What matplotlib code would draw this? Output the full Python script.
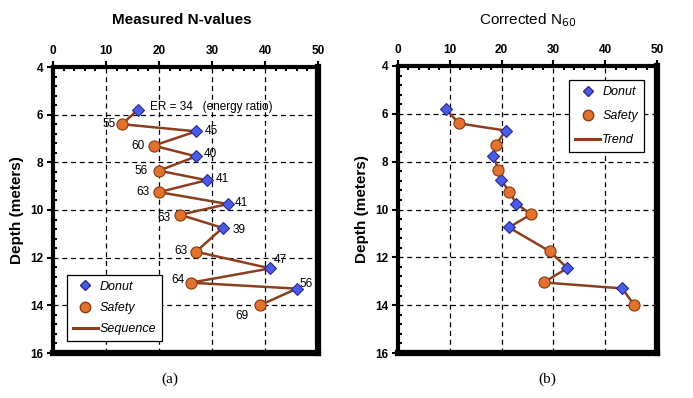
import matplotlib
matplotlib.use("Agg")
import matplotlib.pyplot as plt
from matplotlib.lines import Line2D
from matplotlib.ticker import MultipleLocator

plt.rcParams['font.family'] = ['Liberation Sans', 'DejaVu Sans']

# test sequence, in depth order
depth = [5.8, 6.4, 6.7, 7.3, 7.75, 8.35, 8.75, 9.25, 9.75, 10.2, 10.75, 11.75, 12.45, 13.05, 13.3, 14.0]
hammer = ['Donut', 'Safety', 'Donut', 'Safety', 'Donut', 'Safety', 'Donut', 'Safety',
          'Donut', 'Safety', 'Donut', 'Safety', 'Donut', 'Safety', 'Donut', 'Safety']
n_measured = [16, 13, 27, 19, 27, 20, 29, 20, 33, 24, 32, 27, 41, 26, 46, 39]
energy_ratio = [34, 55, 45, 60, 40, 56, 41, 63, 41, 63, 39, 63, 47, 64, 56, 69]
n60 = [9.2, 11.8, 20.8, 18.9, 18.4, 19.4, 19.8, 21.5, 22.8, 25.7, 21.4, 29.3, 32.7, 28.1, 43.3, 45.6]

# label placement around each point (pixels)
label_offsets = [(0, 0), (-13, 0), (15, 0), (-16, 0), (14, 2), (-18, 0), (16, 1), (-16, 0),
                 (13, 1), (-16, -3), (16, -2), (-15, 1), (10, 8), (-13, 3), (9, 5), (-18, -11)]

blue = '#4a5ce6'
orange = '#e2722f'
brown = '#8b3f1f'

fig = plt.figure(figsize=(6.93, 3.98), dpi=100)
ax1 = fig.add_axes([53 / 693, 1 - 353 / 398, 265 / 693, 286 / 398])
ax2 = fig.add_axes([398 / 693, 1 - 353 / 398, 259 / 693, 287 / 398])


def style_axes(ax):
    ax.set_xlim(0, 50)
    ax.set_ylim(16, 4)
    ax.xaxis.tick_top()
    ax.xaxis.set_major_locator(MultipleLocator(10))
    ax.xaxis.set_minor_locator(MultipleLocator(2))
    ax.yaxis.set_major_locator(MultipleLocator(2))
    ax.yaxis.set_minor_locator(MultipleLocator(0.4))
    ax.tick_params(which='major', direction='out', length=4, width=1.5, labelsize=8.5, pad=3)
    ax.tick_params(which='minor', direction='in', length=3, width=1.5)
    for lab in ax.get_xticklabels() + ax.get_yticklabels():
        lab.set_fontweight('bold')
    ax.grid(True, which='major', color='black', linestyle=(0, (4, 3)), linewidth=0.9)
    ax.spines['top'].set_linewidth(3)
    ax.spines['left'].set_linewidth(3)
    ax.spines['right'].set_linewidth(4.5)
    ax.spines['bottom'].set_linewidth(4.5)
    ax.set_ylabel('Depth (meters)', fontsize=11, fontweight='bold', labelpad=4)


def draw_points(ax, xs, line_label):
    ax.plot(xs, depth, color=brown, lw=1.8, zorder=3)
    dx = [x for x, h in zip(xs, hammer) if h == 'Donut']
    dy = [d for d, h in zip(depth, hammer) if h == 'Donut']
    sx = [x for x, h in zip(xs, hammer) if h == 'Safety']
    sy = [d for d, h in zip(depth, hammer) if h == 'Safety']
    ax.plot(dx, dy, 'D', ms=6, mfc=blue, mec='#2a2a90', mew=0.8, ls='none', zorder=4)
    ax.plot(sx, sy, 'o', ms=8, mfc=orange, mec='#8a3a10', mew=0.8, ls='none', zorder=4)
    handles = [Line2D([], [], marker='D', ms=5.5, mfc=blue, mec='#2a2a90', ls='none', label='Donut'),
               Line2D([], [], marker='o', ms=7.5, mfc=orange, mec='#8a3a10', ls='none', label='Safety'),
               Line2D([], [], color=brown, lw=2.2, label=line_label)]
    return handles


style_axes(ax1)
style_axes(ax2)

h1 = draw_points(ax1, n_measured, 'Sequence')
h2 = draw_points(ax2, n60, 'Trend')

for i, (x, d, er) in enumerate(zip(n_measured, depth, energy_ratio)):
    if i == 0:
        ax1.annotate('ER = %d   (energy ratio)' % er, (x, d), xytext=(12, 3),
                     textcoords='offset pixels', ha='left', va='center', fontsize=8.5)
    else:
        ax1.annotate(str(er), (x, d), xytext=label_offsets[i], textcoords='offset pixels',
                     ha='center', va='center', fontsize=8.5)

leg1 = ax1.legend(handles=h1, loc='lower left', bbox_to_anchor=(0.053, 0.042), borderaxespad=0,
                  fancybox=False, edgecolor='black', framealpha=1, prop={'style': 'italic', 'size': 9},
                  handlelength=2.0, labelspacing=0.75, borderpad=0.45, handletextpad=0.15)
leg1.get_frame().set_linewidth(0.9)
leg2 = ax2.legend(handles=h2, loc='upper right', bbox_to_anchor=(0.95, 0.951), borderaxespad=0,
                  fancybox=False, edgecolor='black', framealpha=1, prop={'style': 'italic', 'size': 9},
                  handlelength=2.0, labelspacing=0.95, borderpad=0.5, handletextpad=0.15)
leg2.get_frame().set_linewidth(0.9)

fig.text(182 / 693, 1 - 20 / 398, 'Measured N-values', ha='center', va='center', fontsize=11,
         fontweight='bold')
fig.text(528 / 693, 1 - 20 / 398, 'Corrected N$_{60}$', ha='center', va='center', fontsize=11)
fig.text(170 / 693, 1 - 379 / 398, '(a)', ha='center', va='center', fontsize=11, family='Liberation Serif')
fig.text(547 / 693, 1 - 379 / 398, '(b)', ha='center', va='center', fontsize=11, family='Liberation Serif')

fig.savefig('out.png', dpi=100)
